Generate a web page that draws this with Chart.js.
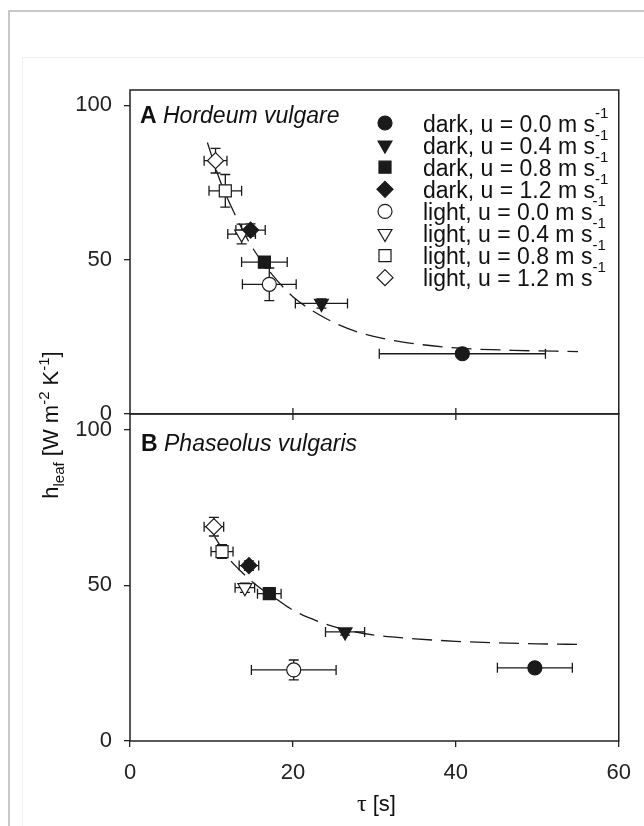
<!DOCTYPE html>
<html>
<head>
<meta charset="utf-8">
<script src="https://cdn.jsdelivr.net/npm/chart.js@4.4.1/dist/chart.umd.min.js"></script>
<style>
	html, body { margin: 0; padding: 0; background: #fff; }
	#wrap { position: relative; width: 644px; height: 826px; overflow: hidden; }
	#outer { position: absolute; left: 8px; top: 10px; right: -10px; bottom: -10px; border-top: 2px solid #c9c9c9; border-left: 2px solid #c9c9c9; }
	#inner { position: absolute; left: 22px; top: 57px; right: -10px; bottom: -10px; border-top: 1px solid #efefef; border-left: 1px solid #efefef; }
	#chart { position: absolute; left: 0; top: 0; }
</style>
</head>
<body>
<div id="wrap">
	<div id="outer"></div>
	<div id="inner"></div>
	<canvas id="chart" width="644" height="826"></canvas>
</div>
<script>
// conditions (legend order)
const conditions = ['dark, u = 0.0', 'dark, u = 0.4', 'dark, u = 0.8', 'dark, u = 1.2',
	'light, u = 0.0', 'light, u = 0.4', 'light, u = 0.8', 'light, u = 1.2'];

// panel A, Hordeum vulgare
const tauA    = [40.8, 23.5, 16.5, 14.8, 17.1, 13.7, 11.7, 10.5];
const tauErrA = [10.2, 3.2, 2.8, 1.8, 3.3, 1.7, 2.0, 1.4];
const hA      = [19.5, 35.8, 49.2, 59.6, 42.0, 58.3, 72.3, 82.1];
const hErrA   = [1.0, 1.5, 1.5, 2.0, 5.3, 3.2, 5.3, 4.0];

// panel B, Phaseolus vulgaris
const tauB    = [49.7, 26.4, 17.1, 14.6, 20.1, 14.1, 11.3, 10.3];
const tauErrB = [4.6, 2.4, 1.45, 1.2, 5.2, 1.2, 1.35, 1.2];
const hB      = [23.5, 35.0, 47.3, 56.3, 22.8, 49.2, 60.8, 68.8];
const hErrB   = [1.0, 1.0, 1.5, 1.5, 3.2, 1.5, 2.2, 3.0];

// dashed fit lines
const fitTauA = [9.5, 11, 13, 15, 17.5, 20, 24, 28, 33, 40, 47, 55];
const fitHA   = [88, 76, 64, 54, 45, 38, 31, 26.5, 23.5, 21.4, 20.6, 20.2];
const fitTauB = [10.4, 12, 14, 16, 18, 20, 23, 26, 30, 35, 40, 45, 50, 55];
const fitHB   = [65.5, 59, 53.5, 49, 45.5, 42, 38.5, 36, 34, 32.8, 32, 31.5, 31.2, 31];

const xTicks = [0, 20, 40, 60];

const INK = '#1a1a1a';
const FONT = '"Liberation Sans", Arial, sans-serif';

const markers = [
	{ shape: 'circle',   rot: 0,   r: 7,   fill: INK },
	{ shape: 'triangle', rot: 180, r: 8,   fill: INK },
	{ shape: 'rect',     rot: 0,   r: 8.5, fill: INK },
	{ shape: 'rectRot',  rot: 0,   r: 8,   fill: INK },
	{ shape: 'circle',   rot: 0,   r: 7,   fill: '#fff' },
	{ shape: 'triangle', rot: 180, r: 8,   fill: '#fff' },
	{ shape: 'rect',     rot: 0,   r: 8.5, fill: '#fff' },
	{ shape: 'rectRot',  rot: 0,   r: 8,   fill: '#fff' }
];

function panelSets(tau, tauErr, h, hErr, axis) {
	return conditions.map((name, i) => ({
		label: name,
		yAxisID: axis,
		data: [{ x: tau[i], y: h[i] }],
		errX: tauErr[i],
		errY: hErr[i],
		pointStyle: markers[i].shape,
		rotation: markers[i].rot,
		pointRadius: markers[i].r,
		backgroundColor: markers[i].fill,
		borderColor: INK,
		borderWidth: 1.2,
		showLine: false,
		order: 0
	}));
}

function fitSet(tau, h, axis) {
	return {
		label: 'fit',
		yAxisID: axis,
		data: tau.map((t, i) => ({ x: t, y: h[i] })),
		showLine: true,
		pointRadius: 0,
		borderColor: INK,
		borderWidth: 1.3,
		borderDash: [20, 9],
		cubicInterpolationMode: 'monotone',
		fill: false,
		order: 2
	};
}

// error bars, under the markers
const errorBars = {
	id: 'errorBars',
	beforeDatasetsDraw(chart) {
		const ctx = chart.ctx;
		ctx.save();
		ctx.strokeStyle = INK;
		ctx.lineWidth = 1.3;
		chart.data.datasets.forEach((ds, i) => {
			if (ds.errX === undefined) return;
			const meta = chart.getDatasetMeta(i);
			const xs = chart.scales[meta.xAxisID];
			const ys = chart.scales[meta.yAxisID];
			const cap = 5;
			ds.data.forEach(p => {
				const px = xs.getPixelForValue(p.x);
				const py = ys.getPixelForValue(p.y);
				const x0 = xs.getPixelForValue(p.x - ds.errX);
				const x1 = xs.getPixelForValue(p.x + ds.errX);
				const y0 = ys.getPixelForValue(p.y - ds.errY);
				const y1 = ys.getPixelForValue(p.y + ds.errY);
				ctx.beginPath();
				ctx.moveTo(x0, py); ctx.lineTo(x1, py);
				ctx.moveTo(x0, py - cap); ctx.lineTo(x0, py + cap);
				ctx.moveTo(x1, py - cap); ctx.lineTo(x1, py + cap);
				ctx.moveTo(px, y0); ctx.lineTo(px, y1);
				ctx.moveTo(px - cap, y0); ctx.lineTo(px + cap, y0);
				ctx.moveTo(px - cap, y1); ctx.lineTo(px + cap, y1);
				ctx.stroke();
			});
		});
		ctx.restore();
	}
};

function drawMarker(ctx, m, x, y) {
	ctx.save();
	ctx.fillStyle = m.fill;
	ctx.strokeStyle = INK;
	ctx.lineWidth = 1.2;
	ctx.beginPath();
	const r = m.r;
	if (m.shape === 'circle') {
		ctx.arc(x, y, r, 0, Math.PI * 2);
	} else if (m.shape === 'triangle') {
		ctx.moveTo(x, y + r);
		ctx.lineTo(x - r * Math.sin(Math.PI / 3), y - r / 2);
		ctx.lineTo(x + r * Math.sin(Math.PI / 3), y - r / 2);
		ctx.closePath();
	} else if (m.shape === 'rect') {
		const s = r * Math.SQRT1_2;
		ctx.rect(x - s, y - s, 2 * s, 2 * s);
	} else {
		ctx.moveTo(x, y - r); ctx.lineTo(x + r, y); ctx.lineTo(x, y + r); ctx.lineTo(x - r, y);
		ctx.closePath();
	}
	ctx.fill();
	ctx.stroke();
	ctx.restore();
}

// draws text pieces in a row; each piece {t, size, dy, family, style}
function drawPieces(ctx, pieces, x, y) {
	let cx = x;
	pieces.forEach(p => {
		ctx.font = `${p.style || ''} ${p.size}px ${p.family || FONT}`;
		ctx.fillText(p.t, cx, y + (p.dy || 0));
		cx += ctx.measureText(p.t).width;
	});
	return cx;
}
function piecesWidth(ctx, pieces) {
	let w = 0;
	pieces.forEach(p => {
		ctx.font = `${p.style || ''} ${p.size}px ${p.family || FONT}`;
		w += ctx.measureText(p.t).width;
	});
	return w;
}

const decorations = {
	id: 'decorations',
	afterDraw(chart) {
		const ctx = chart.ctx;
		const { left, right } = chart.chartArea;
		const yA = chart.scales.yA, yB = chart.scales.yB, xs = chart.scales.x;
		const top = Math.min(yA.top, yB.top);
		const lower = yA.top < yB.top ? yB : yA;
		ctx.save();
		// frames
		ctx.strokeStyle = '#222';
		ctx.lineWidth = 1.5;
		ctx.strokeRect(left, yA.top, right - left, yA.bottom - yA.top);
		ctx.strokeRect(left, yB.top, right - left, yB.bottom - yB.top);
		// ticks crossing the shared edge
		ctx.lineWidth = 1.3;
		ctx.beginPath();
		xTicks.slice(1, -1).forEach(v => {
			const px = xs.getPixelForValue(v);
			ctx.moveTo(px, lower.top - 6);
			ctx.lineTo(px, lower.top + 6);
		});
		ctx.stroke();

		ctx.fillStyle = '#111';
		ctx.textBaseline = 'alphabetic';
		ctx.textAlign = 'left';
		// panel labels
		drawPieces(ctx, [{ t: 'A', size: 23, style: 'bold' }, { t: ' Hordeum vulgare', size: 23, style: 'italic' }], 140, yA.top + 33);
		drawPieces(ctx, [{ t: 'B', size: 23, style: 'bold' }, { t: ' Phaseolus vulgaris', size: 23, style: 'italic' }], 141, yB.top + 37);

		// legend
		conditions.forEach((name, i) => {
			const cy = top + 33 + i * 22.1;
			drawMarker(ctx, markers[i], 385, cy);
			ctx.fillStyle = '#111';
			drawPieces(ctx, [{ t: name + ' m s', size: 23 }, { t: '-1', size: 15, dy: -14 }], 423, cy + 8.5);
		});

		// y title
		const yTitle = [
			{ t: 'h', size: 22 }, { t: 'leaf', size: 15, dy: 6 }, { t: ' [W m', size: 22 },
			{ t: '-2', size: 15, dy: -9 }, { t: ' K', size: 22 }, { t: '-1', size: 15, dy: -9 }, { t: ']', size: 22 }
		];
		ctx.save();
		ctx.translate(58, 425);
		ctx.rotate(-Math.PI / 2);
		drawPieces(ctx, yTitle, -piecesWidth(ctx, yTitle) / 2, 0);
		ctx.restore();

		// x title
		const xTitle = [{ t: '\u03C4', size: 24, family: '"Liberation Serif", serif' }, { t: ' [s]', size: 22 }];
		drawPieces(ctx, xTitle, (left + right) / 2 + 2 - piecesWidth(ctx, xTitle) / 2, 811);
		ctx.restore();
	}
};

const yAxis = (weight) => ({
	type: 'linear',
	position: 'left',
	stack: 'panels',
	stackWeight: weight,
	min: 0,
	max: 105,
	ticks: { stepSize: 50, includeBounds: false, padding: 12, color: '#222', font: { size: 22 } },
	grid: { display: true, drawOnChartArea: false, drawTicks: true, tickLength: 6, color: '#222', lineWidth: 1.3 },
	border: { display: false },
	afterFit: s => { s.width = 130; }
});

Chart.defaults.font.family = FONT;

new Chart(document.getElementById('chart'), {
	type: 'scatter',
	data: {
		datasets: [
			...panelSets(tauA, tauErrA, hA, hErrA, 'yA'),
			...panelSets(tauB, tauErrB, hB, hErrB, 'yB'),
			fitSet(fitTauA, fitHA, 'yA'),
			fitSet(fitTauB, fitHB, 'yB')
		]
	},
	options: {
		responsive: false,
		animation: false,
		events: [],
		layout: { padding: { left: 0, right: 24, top: 90, bottom: 25 } },
		scales: {
			x: {
				type: 'linear',
				min: 0,
				max: 60,
				afterBuildTicks: s => { s.ticks = xTicks.map(v => ({ value: v })); },
				ticks: { padding: 13, color: '#222', font: { size: 22 }, maxRotation: 0 },
				grid: { display: true, drawOnChartArea: false, drawTicks: true, tickLength: 6, color: '#222', lineWidth: 1.3 },
				border: { display: false },
				afterFit: s => { s.height = 60; }
			},
			// the stack is laid out from the last listed axis upward, so B comes first here
			yB: yAxis(1.01),
			yA: yAxis(1)
		},
		plugins: {
			legend: { display: false },
			tooltip: { enabled: false }
		}
	},
	plugins: [errorBars, decorations]
});
</script>
</body>
</html>
